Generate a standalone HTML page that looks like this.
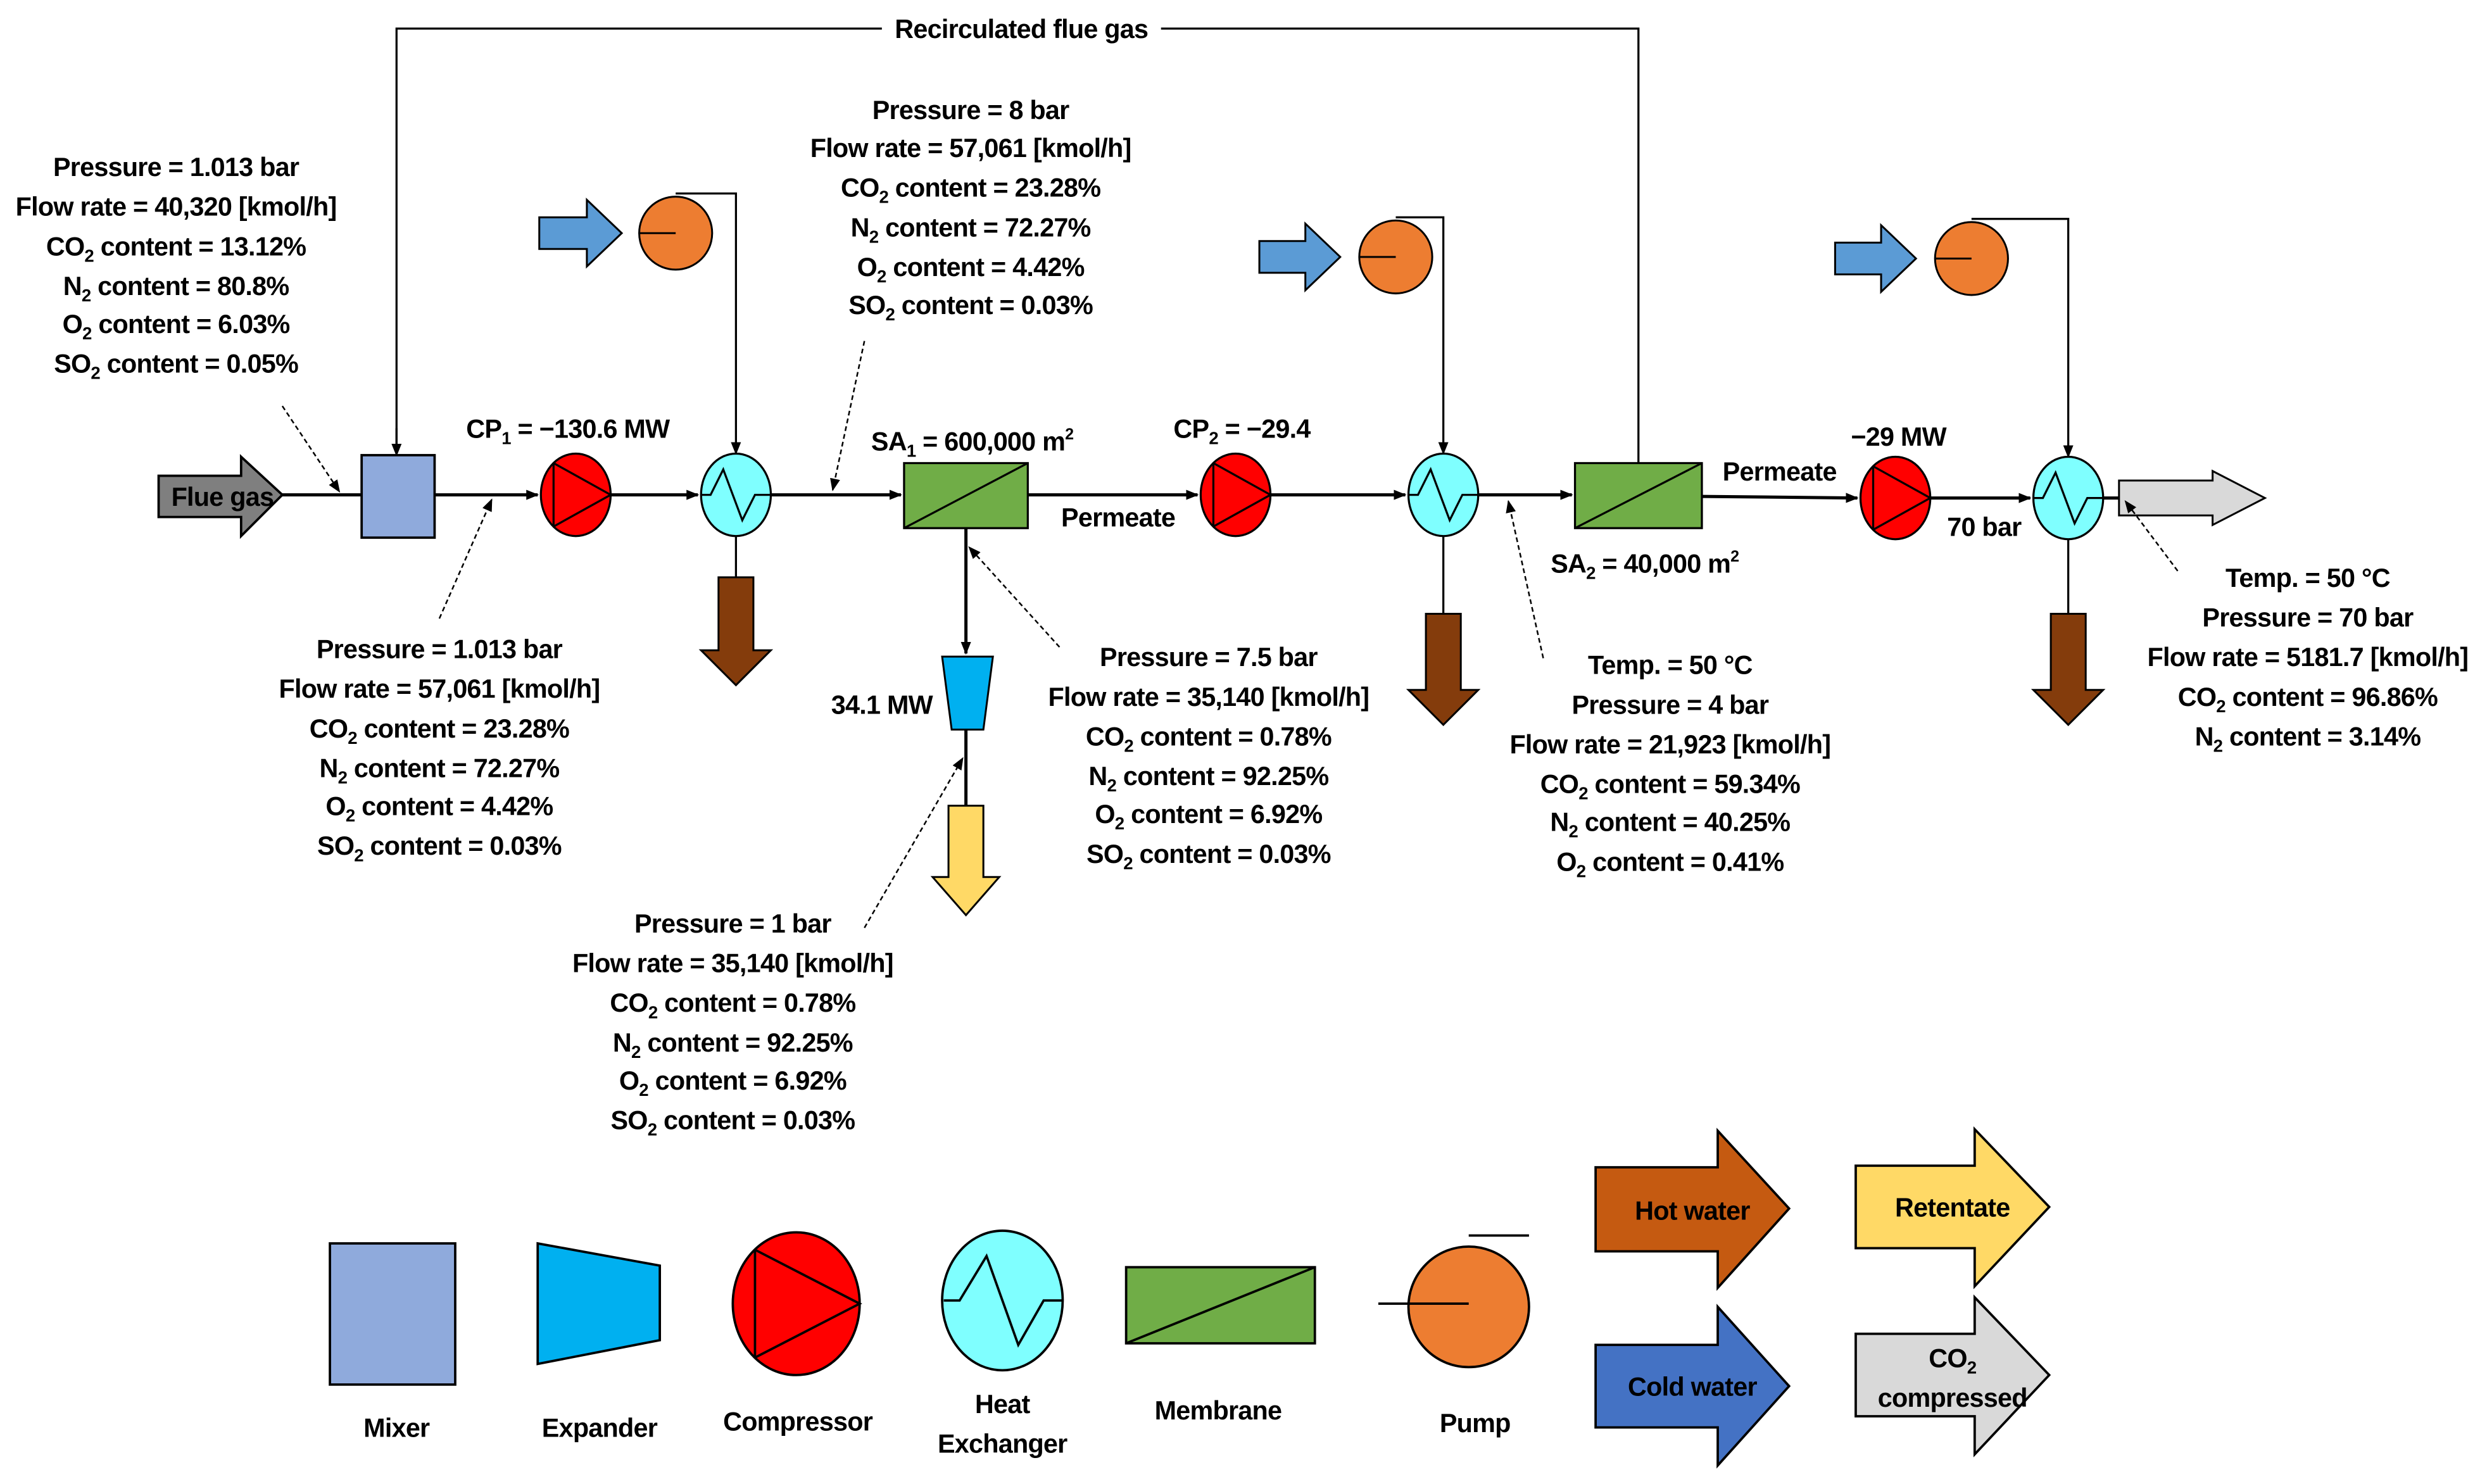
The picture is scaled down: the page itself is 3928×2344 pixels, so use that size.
<!DOCTYPE html>
<html><head><meta charset="utf-8"><style>
html,body{margin:0;padding:0;background:#fff;}
svg{display:block;}
text{font-family:"Liberation Sans Narrow","Liberation Sans",sans-serif;font-weight:bold;font-size:16.5px;fill:#000;letter-spacing:-0.3px;}
.c{text-anchor:middle;}
</style></head><body>
<svg width="3928" height="2344" viewBox="0 0 1568 935.7" xmlns="http://www.w3.org/2000/svg">
<defs>
<marker id="ah" viewBox="0 0 10 10" refX="9" refY="5" markerWidth="8" markerHeight="8" orient="auto" markerUnits="userSpaceOnUse"><path d="M0,1 L10,5 L0,9 z" fill="#000"/></marker>
</defs>
<rect width="1568" height="936" fill="#fff"/>
<polyline points="250,287 250,18 1033,18 1033,292" fill="none" stroke="#000" stroke-width="1.3"/>
<rect x="556" y="8" width="176" height="20" fill="#fff"/>
<text class="c" x="644" y="24">Recirculated flue gas</text>
<path d="M250,270 L250,287" stroke="#000" stroke-width="1.3" marker-end="url(#ah)"/>
<g stroke="#000" stroke-width="2" fill="none">
<line x1="178" y1="312" x2="228" y2="312"/>
<line x1="274" y1="312" x2="339" y2="312" marker-end="url(#ah)"/>
<line x1="385" y1="312" x2="440" y2="312" marker-end="url(#ah)"/>
<line x1="486" y1="312" x2="568" y2="312" marker-end="url(#ah)"/>
<line x1="648" y1="312" x2="755" y2="312" marker-end="url(#ah)"/>
<line x1="801" y1="312" x2="886" y2="312" marker-end="url(#ah)"/>
<line x1="932" y1="312" x2="991" y2="312" marker-end="url(#ah)"/>
<line x1="1073" y1="313" x2="1171" y2="314" marker-end="url(#ah)"/>
<line x1="1217" y1="314" x2="1280" y2="314" marker-end="url(#ah)"/>
<line x1="1326" y1="314" x2="1336" y2="314"/>
<line x1="609" y1="333" x2="609" y2="412" marker-end="url(#ah)"/>
<line x1="609" y1="460" x2="609" y2="508"/>
</g>
<g stroke="#000" stroke-width="1.3" fill="none">
<polyline points="426,122 464,122 464,286" marker-end="url(#ah)"/>
<polyline points="880,137 910,137 910,286" marker-end="url(#ah)"/>
<polyline points="1243,138 1304,138 1304,288" marker-end="url(#ah)"/>
<line x1="464" y1="338" x2="464" y2="364"/>
<line x1="910" y1="338" x2="910" y2="387"/>
<line x1="1304" y1="340" x2="1304" y2="387"/>
</g>
<path d="M100,300 L152,300 L152,288 L178,312 L152,338 L152,326 L100,326 z" fill="#7f7f7f" stroke="#000" stroke-width="1.5"/>
<text x="108" y="319">Flue gas</text>
<rect x="228" y="287" width="46" height="52" fill="#8faadc" stroke="#000" stroke-width="1.5"/>
<g stroke="#000" stroke-width="1.3">
<ellipse cx="363" cy="312" rx="22" ry="26" fill="#ff0000"/>
<path d="M349,292 L349,332 M349,292 L385,312 L349,332" fill="none"/>
<ellipse cx="779" cy="312" rx="22" ry="26" fill="#ff0000"/>
<path d="M765,292 L765,332 M765,292 L801,312 L765,332" fill="none"/>
<ellipse cx="1195" cy="314" rx="22" ry="26" fill="#ff0000"/>
<path d="M1181,294 L1181,334 M1181,294 L1217,314 L1181,334" fill="none"/>
</g>
<g stroke="#000" stroke-width="1.3" fill="#7fffff">
<ellipse cx="464" cy="312" rx="22" ry="26"/>
<polyline points="442,312 448,312 456,296 468,328 476,312 486,312" fill="none"/>
<ellipse cx="910" cy="312" rx="22" ry="26"/>
<polyline points="888,312 894,312 902,296 914,328 922,312 932,312" fill="none"/>
<ellipse cx="1304" cy="314" rx="22" ry="26"/>
<polyline points="1282,314 1288,314 1296,298 1308,330 1316,314 1326,314" fill="none"/>
</g>
<g stroke="#000" stroke-width="1.2">
<path d="M340,137 L370,137 L370,126 L392,147 L370,168 L370,157 L340,157 z" fill="#5b9bd5"/>
<circle cx="426" cy="147" r="23" fill="#ed7d31"/>
<line x1="403" y1="147" x2="426" y2="147"/>
<path d="M794,152 L823,152 L823,141 L845,162 L823,183 L823,172 L794,172 z" fill="#5b9bd5"/>
<circle cx="880" cy="162" r="23" fill="#ed7d31"/>
<line x1="857" y1="162" x2="880" y2="162"/>
<path d="M1157,153 L1186,153 L1186,142 L1208,163 L1186,184 L1186,173 L1157,173 z" fill="#5b9bd5"/>
<circle cx="1243" cy="163" r="23" fill="#ed7d31"/>
<line x1="1220" y1="163" x2="1243" y2="163"/>
</g>
<g stroke="#000" stroke-width="1.2" fill="#843c0c">
<path d="M453,364 L475,364 L475,410 L486,410 L464,432 L442,410 L453,410 z"/>
<path d="M899,387 L921,387 L921,435 L932,435 L910,457 L888,435 L899,435 z"/>
<path d="M1293,387 L1315,387 L1315,435 L1326,435 L1304,457 L1282,435 L1293,435 z"/>
</g>
<g stroke="#000" stroke-width="1.3">
<rect x="570" y="292" width="78" height="41" fill="#70ad47"/>
<line x1="570" y1="333" x2="648" y2="292"/>
<rect x="993" y="292" width="80" height="41" fill="#70ad47"/>
<line x1="993" y1="333" x2="1073" y2="292"/>
</g>
<path d="M594,414 L626,414 L620,460 L600,460 z" fill="#00b0f0" stroke="#000" stroke-width="1.2"/>
<path d="M598,508 L620,508 L620,553 L630,553 L609,577 L588,553 L598,553 z" fill="#ffd966" stroke="#000" stroke-width="1.2"/>
<path d="M1336,303 L1395,303 L1395,297 L1428,314 L1395,331 L1395,325 L1336,325 z" fill="#d9d9d9" stroke="#000" stroke-width="1.2"/>
<g stroke="#000" stroke-width="1" stroke-dasharray="3,2" fill="none">
<line x1="178" y1="256" x2="214" y2="310" marker-end="url(#ah)"/>
<line x1="277" y1="390" x2="310" y2="315" marker-end="url(#ah)"/>
<line x1="545" y1="215" x2="525" y2="309" marker-end="url(#ah)"/>
<line x1="668" y1="408" x2="611" y2="345" marker-end="url(#ah)"/>
<line x1="545" y1="585" x2="607" y2="478" marker-end="url(#ah)"/>
<line x1="973" y1="415" x2="951" y2="316" marker-end="url(#ah)"/>
<line x1="1373" y1="360" x2="1340" y2="316" marker-end="url(#ah)"/>
</g>
<text class="c" x="358" y="276">CP<tspan font-size="11" dy="4">1</tspan><tspan dy="-4"> = −130.6 MW</tspan></text>
<text class="c" x="613" y="284">SA<tspan font-size="11" dy="4">1</tspan><tspan dy="-4"> = 600,000 m</tspan><tspan font-size="10" dy="-7">2</tspan></text>
<text class="c" x="783" y="276">CP<tspan font-size="11" dy="4">2</tspan><tspan dy="-4"> = −29.4</tspan></text>
<text class="c" x="1037" y="361">SA<tspan font-size="11" dy="4">2</tspan><tspan dy="-4"> = 40,000 m</tspan><tspan font-size="10" dy="-7">2</tspan></text>
<text class="c" x="556" y="450">34.1 MW</text>
<text class="c" x="705" y="332">Permeate</text>
<text class="c" x="1122" y="303">Permeate</text>
<text class="c" x="1197" y="281">−29 MW</text>
<text class="c" x="1251" y="338">70 bar</text>
<text class="c" x="111" y="111">Pressure = 1.013 bar</text>
<text class="c" x="111" y="136">Flow rate = 40,320 [kmol/h]</text>
<text class="c" x="111" y="161">CO<tspan font-size="11" dy="4">2</tspan><tspan dy="-4"> content = 13.12%</tspan></text>
<text class="c" x="111" y="186">N<tspan font-size="11" dy="4">2</tspan><tspan dy="-4"> content = 80.8%</tspan></text>
<text class="c" x="111" y="210">O<tspan font-size="11" dy="4">2</tspan><tspan dy="-4"> content = 6.03%</tspan></text>
<text class="c" x="111" y="235">SO<tspan font-size="11" dy="4">2</tspan><tspan dy="-4"> content = 0.05%</tspan></text>
<text class="c" x="612" y="75">Pressure = 8 bar</text>
<text class="c" x="612" y="99">Flow rate = 57,061 [kmol/h]</text>
<text class="c" x="612" y="124">CO<tspan font-size="11" dy="4">2</tspan><tspan dy="-4"> content = 23.28%</tspan></text>
<text class="c" x="612" y="149">N<tspan font-size="11" dy="4">2</tspan><tspan dy="-4"> content = 72.27%</tspan></text>
<text class="c" x="612" y="174">O<tspan font-size="11" dy="4">2</tspan><tspan dy="-4"> content = 4.42%</tspan></text>
<text class="c" x="612" y="198">SO<tspan font-size="11" dy="4">2</tspan><tspan dy="-4"> content = 0.03%</tspan></text>
<text class="c" x="277" y="415">Pressure = 1.013 bar</text>
<text class="c" x="277" y="440">Flow rate = 57,061 [kmol/h]</text>
<text class="c" x="277" y="465">CO<tspan font-size="11" dy="4">2</tspan><tspan dy="-4"> content = 23.28%</tspan></text>
<text class="c" x="277" y="490">N<tspan font-size="11" dy="4">2</tspan><tspan dy="-4"> content = 72.27%</tspan></text>
<text class="c" x="277" y="514">O<tspan font-size="11" dy="4">2</tspan><tspan dy="-4"> content = 4.42%</tspan></text>
<text class="c" x="277" y="539">SO<tspan font-size="11" dy="4">2</tspan><tspan dy="-4"> content = 0.03%</tspan></text>
<text class="c" x="762" y="420">Pressure = 7.5 bar</text>
<text class="c" x="762" y="445">Flow rate = 35,140 [kmol/h]</text>
<text class="c" x="762" y="470">CO<tspan font-size="11" dy="4">2</tspan><tspan dy="-4"> content = 0.78%</tspan></text>
<text class="c" x="762" y="495">N<tspan font-size="11" dy="4">2</tspan><tspan dy="-4"> content = 92.25%</tspan></text>
<text class="c" x="762" y="519">O<tspan font-size="11" dy="4">2</tspan><tspan dy="-4"> content = 6.92%</tspan></text>
<text class="c" x="762" y="544">SO<tspan font-size="11" dy="4">2</tspan><tspan dy="-4"> content = 0.03%</tspan></text>
<text class="c" x="462" y="588">Pressure = 1 bar</text>
<text class="c" x="462" y="613">Flow rate = 35,140 [kmol/h]</text>
<text class="c" x="462" y="638">CO<tspan font-size="11" dy="4">2</tspan><tspan dy="-4"> content = 0.78%</tspan></text>
<text class="c" x="462" y="663">N<tspan font-size="11" dy="4">2</tspan><tspan dy="-4"> content = 92.25%</tspan></text>
<text class="c" x="462" y="687">O<tspan font-size="11" dy="4">2</tspan><tspan dy="-4"> content = 6.92%</tspan></text>
<text class="c" x="462" y="712">SO<tspan font-size="11" dy="4">2</tspan><tspan dy="-4"> content = 0.03%</tspan></text>
<text class="c" x="1053" y="425">Temp. = 50 °C</text>
<text class="c" x="1053" y="450">Pressure = 4 bar</text>
<text class="c" x="1053" y="475">Flow rate = 21,923 [kmol/h]</text>
<text class="c" x="1053" y="500">CO<tspan font-size="11" dy="4">2</tspan><tspan dy="-4"> content = 59.34%</tspan></text>
<text class="c" x="1053" y="524">N<tspan font-size="11" dy="4">2</tspan><tspan dy="-4"> content = 40.25%</tspan></text>
<text class="c" x="1053" y="549">O<tspan font-size="11" dy="4">2</tspan><tspan dy="-4"> content = 0.41%</tspan></text>
<text class="c" x="1455" y="370">Temp. = 50 °C</text>
<text class="c" x="1455" y="395">Pressure = 70 bar</text>
<text class="c" x="1455" y="420">Flow rate = 5181.7 [kmol/h]</text>
<text class="c" x="1455" y="445">CO<tspan font-size="11" dy="4">2</tspan><tspan dy="-4"> content = 96.86%</tspan></text>
<text class="c" x="1455" y="470">N<tspan font-size="11" dy="4">2</tspan><tspan dy="-4"> content = 3.14%</tspan></text>
<g stroke="#000" stroke-width="1.5">
<rect x="208" y="784" width="79" height="89" fill="#8faadc"/>
<path d="M339,784 L416,798 L416,845 L339,860 z" fill="#00b0f0"/>
<ellipse cx="502" cy="822" rx="40" ry="45" fill="#ff0000"/>
<path d="M476,788 L476,856 M476,788 L542,822 L476,856" fill="none"/>
<ellipse cx="632" cy="820" rx="38" ry="44" fill="#7fffff"/>
<polyline points="595,820 605,820 622,792 642,848 658,820 670,820" fill="none"/>
<rect x="710" y="799" width="119" height="48" fill="#70ad47"/>
<line x1="710" y1="847" x2="829" y2="799"/>
<circle cx="926" cy="824" r="38" fill="#ed7d31"/>
<line x1="869" y1="822" x2="926" y2="822"/>
<line x1="926" y1="779" x2="964" y2="779"/>
<path d="M1006,736 L1083,736 L1083,713 L1128,762 L1083,812 L1083,789 L1006,789 z" fill="#c55a11"/>
<path d="M1006,848 L1083,848 L1083,824 L1128,874 L1083,924 L1083,900 L1006,900 z" fill="#4472c4"/>
<path d="M1170,735 L1245,735 L1245,712 L1292,761 L1245,811 L1245,787 L1170,787 z" fill="#ffd966"/>
<path d="M1170,841 L1245,841 L1245,818 L1292,867 L1245,917 L1245,893 L1170,893 z" fill="#d9d9d9"/>
</g>
<text class="c" x="1067" y="769">Hot water</text>
<text class="c" x="1067" y="880">Cold water</text>
<text class="c" x="1231" y="767">Retentate</text>
<text class="c" x="1231" y="862">CO<tspan font-size="11" dy="4">2</tspan></text>
<text class="c" x="1231" y="887">compressed</text>
<text class="c" x="250" y="906">Mixer</text>
<text class="c" x="378" y="906">Expander</text>
<text class="c" x="503" y="902">Compressor</text>
<text class="c" x="632" y="891">Heat</text>
<text class="c" x="632" y="916">Exchanger</text>
<text class="c" x="768" y="895">Membrane</text>
<text class="c" x="930" y="903">Pump</text>
</svg>
</body></html>
